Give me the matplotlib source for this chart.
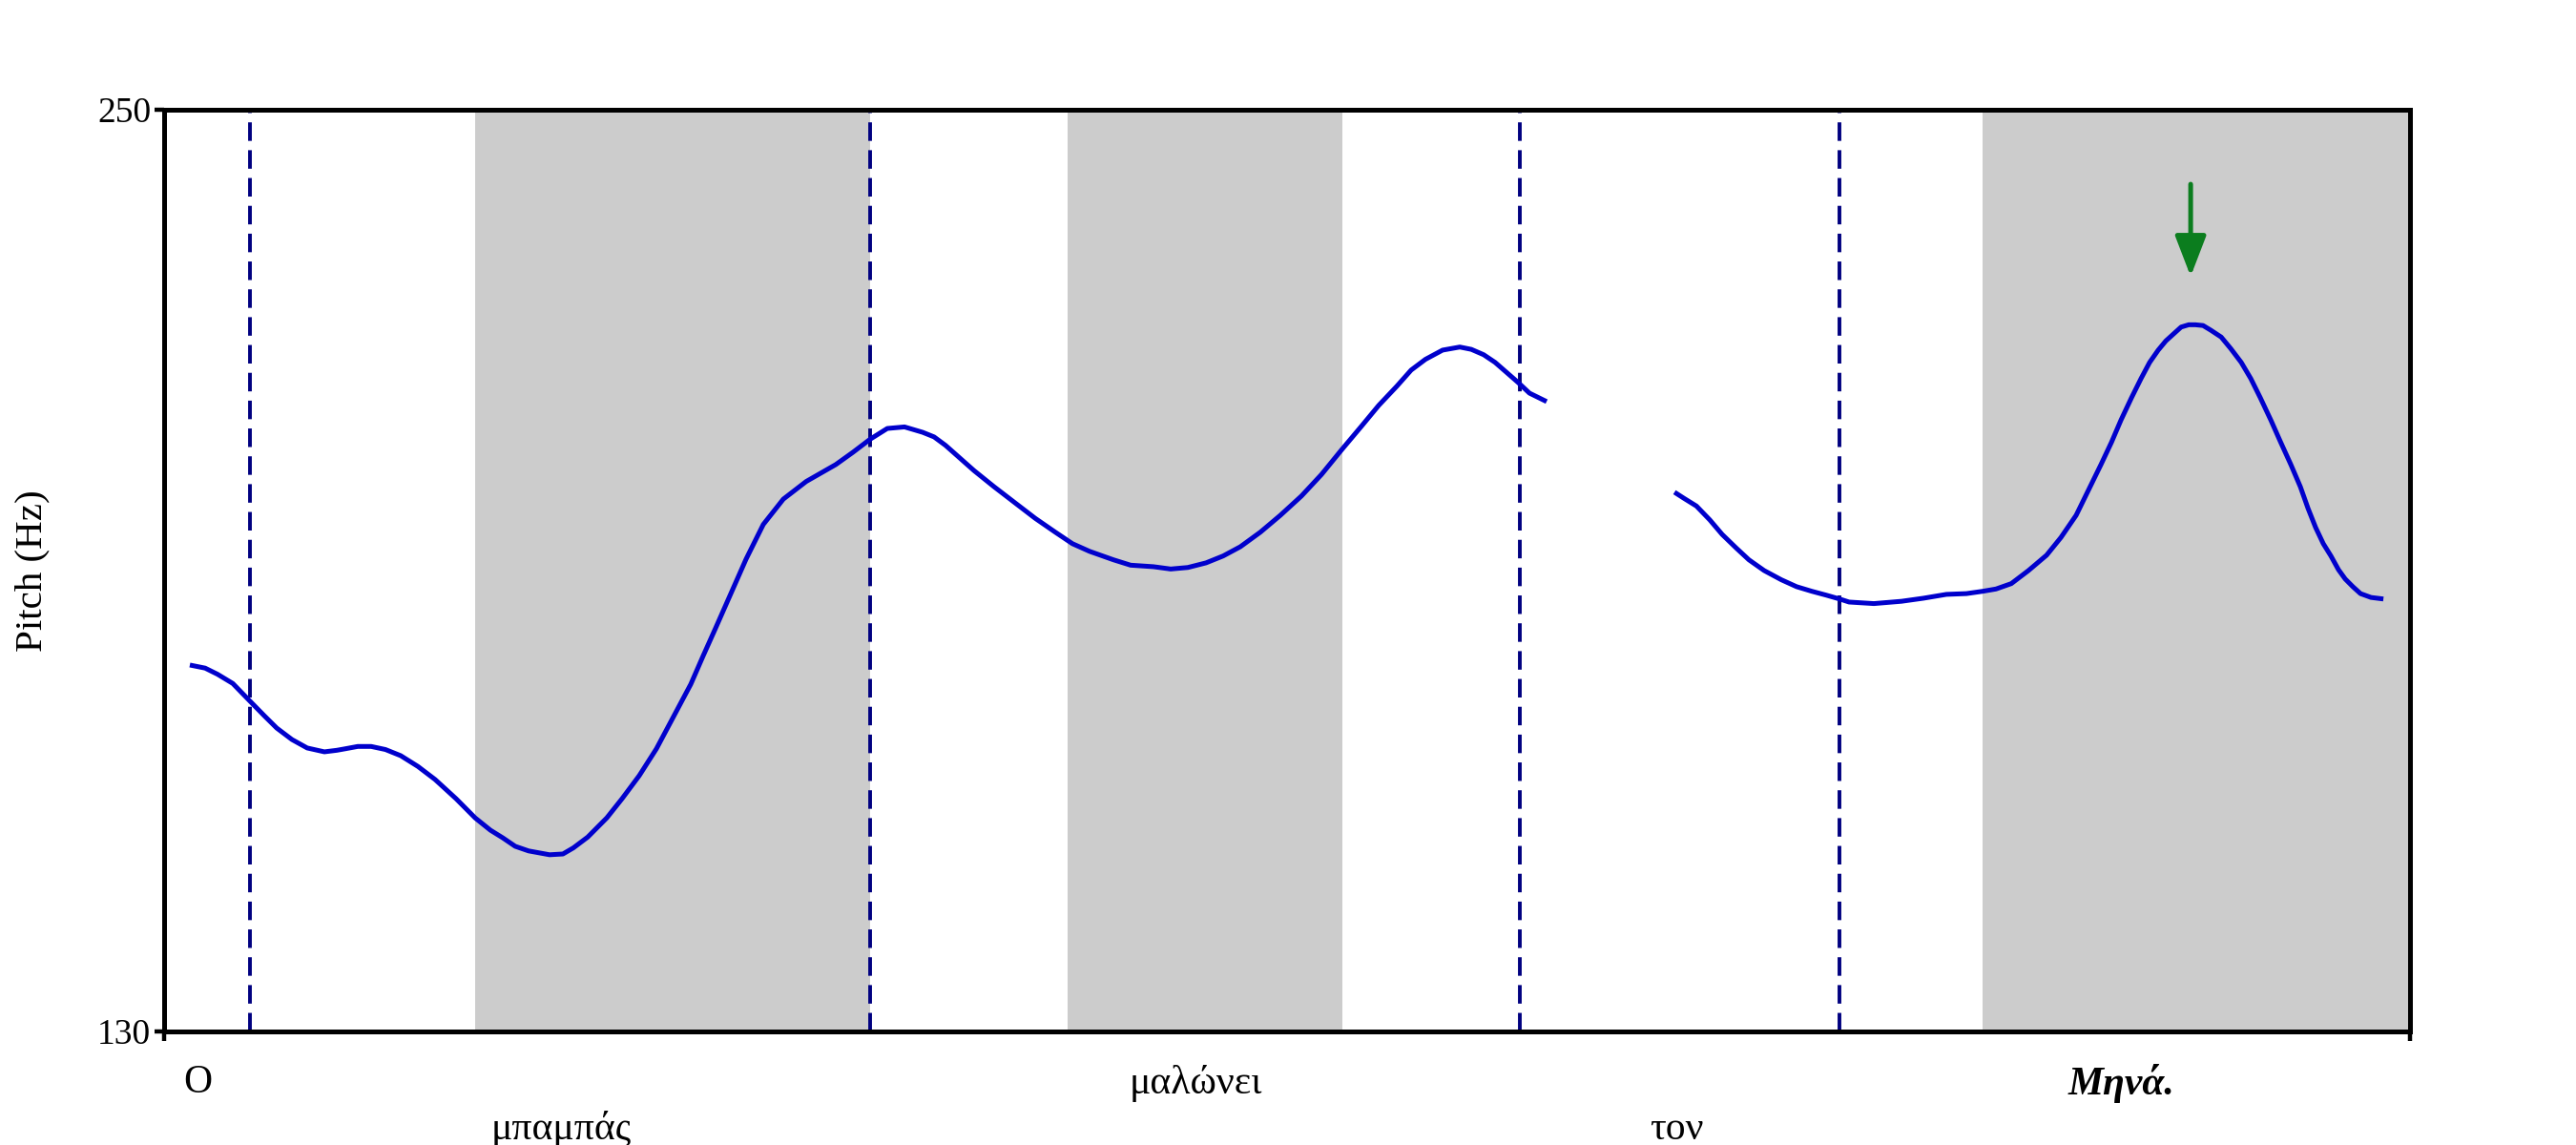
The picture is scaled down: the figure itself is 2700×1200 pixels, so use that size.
import matplotlib
matplotlib.use('Agg')
import matplotlib.pyplot as plt
import matplotlib.transforms as mtransforms

# pitch track, time in s / f0 in Hz
seg1_t = [0.027, 0.043, 0.056, 0.072, 0.090, 0.105, 0.118, 0.134, 0.150, 0.168,
          0.181, 0.190, 0.203, 0.217, 0.232, 0.248, 0.266, 0.284, 0.306, 0.326,
          0.342, 0.355, 0.368, 0.382, 0.404, 0.418, 0.429, 0.444, 0.464, 0.480,
          0.498, 0.516, 0.534, 0.552, 0.565, 0.578, 0.594, 0.610, 0.628, 0.649,
          0.673, 0.704, 0.722, 0.740, 0.758, 0.776, 0.795, 0.807, 0.819, 0.849,
          0.870, 0.892, 0.913, 0.934, 0.952, 0.970, 0.995, 1.013, 1.037, 1.055,
          1.073, 1.092, 1.110, 1.128, 1.149, 1.170, 1.192, 1.213, 1.234, 1.255,
          1.273, 1.292, 1.307, 1.322, 1.340, 1.358, 1.370, 1.383, 1.395, 1.407,
          1.419, 1.431, 1.449]
seg1_hz = [177.7, 177.3, 176.5, 175.3, 173.0, 171.1, 169.5, 168.0, 166.9, 166.4,
           166.6, 166.8, 167.1, 167.1, 166.7, 165.9, 164.5, 162.8, 160.3, 157.8,
           156.2, 155.2, 154.1, 153.5, 153.0, 153.1, 153.9, 155.3, 157.8, 160.3,
           163.3, 166.8, 171.0, 175.2, 178.9, 182.5, 187.0, 191.5, 196.0, 199.3,
           201.6, 203.8, 205.4, 207.1, 208.5, 208.7, 208.0, 207.4, 206.3, 203.0,
           200.9, 198.8, 196.8, 195.0, 193.5, 192.5, 191.4, 190.7, 190.5, 190.2,
           190.4, 191.0, 191.9, 193.1, 195.0, 197.2, 199.7, 202.5, 205.7, 208.8,
           211.5, 214.0, 216.1, 217.5, 218.7, 219.1, 218.8, 218.1, 217.1, 215.8,
           214.5, 213.1, 212.0]

seg2_t = [1.583, 1.593, 1.606, 1.620, 1.633, 1.648, 1.661, 1.677, 1.695, 1.711,
          1.727, 1.742, 1.756, 1.766, 1.779, 1.792, 1.821, 1.844, 1.868, 1.889,
          1.906, 1.920, 1.936, 1.954, 1.973, 1.988, 2.004, 2.017, 2.030, 2.041,
          2.051, 2.062, 2.072, 2.081, 2.090, 2.098, 2.106, 2.114, 2.122, 2.129,
          2.137, 2.145, 2.156, 2.166, 2.177, 2.187, 2.197, 2.208, 2.218, 2.229,
          2.239, 2.247, 2.255, 2.263, 2.271, 2.279, 2.286, 2.294, 2.302, 2.313,
          2.326]
seg2_hz = [200.2, 199.4, 198.4, 196.6, 194.7, 192.9, 191.4, 190.0, 188.8, 187.9,
           187.3, 186.8, 186.3, 185.9, 185.8, 185.7, 186.0, 186.4, 186.9, 187.0,
           187.3, 187.6, 188.3, 190.0, 192.0, 194.3, 197.2, 200.5, 203.8, 206.7,
           209.6, 212.5, 215.0, 217.1, 218.7, 219.9, 220.8, 221.7, 222.0, 222.0,
           221.9, 221.3, 220.4, 218.9, 217.1, 215.0, 212.5, 209.6, 206.8, 203.8,
           200.9, 198.1, 195.6, 193.5, 191.9, 190.1, 188.9, 187.9, 187.0, 186.5,
           186.3]

# word boundaries (dashed) and stressed syllables (grey)
boundaries = [0.090, 0.740, 1.421, 1.756]
stressed = [(0.326, 0.740), (0.947, 1.235), (1.906, 2.354)]

words = ['Ο', 'μπαμπάς', 'μαλώνει', 'τον', 'Μηνά.']
word_t = [0.035, 0.416, 1.081, 1.585, 2.051]
word_row = [0, 1, 0, 1, 0]

arrow_t = 2.124
arrow_top = 240.3
arrow_tip = 228.3

t_max = 2.354
f_min, f_max = 130, 250

plt.rcParams['font.family'] = ['Liberation Serif', 'DejaVu Serif']

fig = plt.figure(figsize=(27, 12), dpi=100)
ax = fig.add_axes([0.0637, 0.0992, 0.9356 - 0.0637, 0.9042 - 0.0992])

for a, b in stressed:
    ax.axvspan(a, b, color='#cccccc', lw=0, zorder=0)

for b in boundaries:
    ax.axvline(b, color='#000080', lw=2.8, ls=(0, (5, 2.5)), zorder=1)

for tt, ff in [(seg1_t, seg1_hz), (seg2_t, seg2_hz)]:
    ax.plot(tt, ff, color='#0000cc', lw=3.6, zorder=3,
            solid_capstyle='butt', solid_joinstyle='round')

ax.annotate('', xy=(arrow_t, arrow_tip), xytext=(arrow_t, arrow_top),
            arrowprops=dict(arrowstyle='-|>,head_length=1.3,head_width=0.5',
                            color='#0b7d1e', lw=3.6, mutation_scale=20,
                            shrinkA=0, shrinkB=0), zorder=4)

ax.set_xlim(0, t_max)
ax.set_ylim(f_min, f_max)
ax.set_xticks([0, t_max])
ax.set_xticklabels(['', ''])
ax.set_yticks([f_min, f_max])
ax.tick_params(axis='both', direction='out', length=7, width=3.2, labelsize=27, pad=3)
for s in ax.spines.values():
    s.set_linewidth(3.6)
ax.set_ylabel('Pitch (Hz)', fontsize=29.5, labelpad=36)

trans = mtransforms.blended_transform_factory(ax.transData, ax.transAxes)
row_y = [-0.056, -0.106]
for w, t, r in zip(words, word_t, word_row):
    kw = {}
    if w == 'Μηνά.':
        kw = dict(fontweight='bold', fontstyle='italic')
    ax.text(t, row_y[r], w, transform=trans, ha='center', va='center',
            fontsize=30, **kw)

fig.savefig('out.png', dpi=100)
